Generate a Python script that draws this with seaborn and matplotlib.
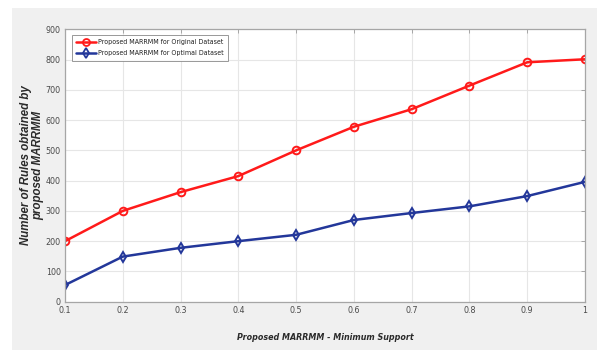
import numpy as np
import pandas as pd
import matplotlib
matplotlib.use("Agg")
import matplotlib.pyplot as plt
import seaborn as sns
from matplotlib.patches import Rectangle
from matplotlib.lines import Line2D
from matplotlib import font_manager

# Minimum support thresholds
min_support = [0.1, 0.2, 0.3, 0.4, 0.5, 0.6, 0.7, 0.8, 0.9, 1.0]
# Number of rules generated
rules_original = [200, 300, 362, 415, 500, 578, 636, 714, 791, 801]
rules_optimal = [55, 149, 178, 200, 221, 270, 293, 315, 349, 396]

label_original = "Proposed MARRMM for Original Dataset"
label_optimal = "Proposed MARRMM for Optimal Dataset"

y_ticks = [0, 100, 200, 300, 400, 500, 600, 700, 800, 900]
x_ticks = [0.1, 0.2, 0.3, 0.4, 0.5, 0.6, 0.7, 0.8, 0.9, 1.0]
x_tick_labels = ["0.1", "0.2", "0.3", "0.4", "0.5", "0.6", "0.7", "0.8", "0.9", "1"]

df = pd.DataFrame({
    "support": min_support * 2,
    "rules": rules_original + rules_optimal,
    "series": [label_original] * len(min_support) + [label_optimal] * len(min_support),
})

sns.set_theme(style="white")
plt.rcParams["font.family"] = ["Liberation Sans", "DejaVu Sans"]

# a narrow face for horizontal text, if one is available
installed = {f.name for f in font_manager.fontManager.ttflist}
if "Liberation Sans Narrow" in installed:
    narrow = {"family": ["Liberation Sans Narrow", "DejaVu Sans"]}
else:
    narrow = {"family": ["DejaVu Sans"], "stretch": "condensed"}

fig = plt.figure(figsize=(5.97, 3.5), dpi=100)
fig.patch.set_facecolor("white")
# grey window background
fig.add_artist(Rectangle((12 / 597, 0), 1 - 12 / 597, 1 - 8 / 350,
                         transform=fig.transFigure, facecolor="#f0f0f0",
                         edgecolor="none", zorder=0))

ax = fig.add_axes([65 / 597, 1 - 301.7 / 350, (585 - 65) / 597, (301.7 - 29.3) / 350])
ax.set_facecolor("white")

palette = {label_original: "#ff1a1a", label_optimal: "#23379a"}
markers = {label_original: "o", label_optimal: "d"}
sns.lineplot(data=df, x="support", y="rules", hue="series", style="series",
             palette=palette, markers=markers, dashes=False, linewidth=1.8,
             markersize=5.5, markeredgewidth=1.4, ax=ax, legend=False)
for line in ax.get_lines():
    line.set_markerfacecolor("none")
    line.set_markeredgecolor(line.get_color())

ax.set_xlim(0.1, 1.0)
ax.set_ylim(0, 900)
ax.set_xticks(x_ticks)
ax.set_xticklabels(x_tick_labels)
ax.set_yticks(y_ticks)
ax.grid(True, color="#e6e6e6", linewidth=0.8)
ax.set_axisbelow(True)
for sp in ax.spines.values():
    sp.set_visible(True)
    sp.set_color("#a6a6a6")
    sp.set_linewidth(0.9)
ax.tick_params(axis="both", which="both", direction="in", length=3, width=0.7,
               color="#a6a6a6", labelsize=6.4, labelcolor="#4a4a4a",
               top=True, right=True, pad=3)
for t in ax.get_xticklabels() + ax.get_yticklabels():
    t.set_fontfamily(narrow["family"])
    if "stretch" in narrow:
        t.set_fontstretch(narrow["stretch"])

ax.set_xlabel("Proposed MARRMM - Minimum Support", fontsize=6.4, fontweight="bold",
              fontstyle="italic", color="#2a2a2a", labelpad=13, **narrow)
ax.set_ylabel("Number of Rules obtained by\nproposed MARRMM", fontsize=8.3,
              fontweight="bold", fontstyle="italic", color="#2a2a2a",
              labelpad=1, linespacing=1.0)

handles = [
    Line2D([], [], color="#ff1a1a", marker="o", markerfacecolor="none",
           markeredgewidth=1.3, markersize=5, linewidth=1.8),
    Line2D([], [], color="#23379a", marker="d", markerfacecolor="none",
           markeredgewidth=1.3, markersize=5, linewidth=1.8),
]
prop = {"size": 5.0, **narrow}
leg = ax.legend(handles, [label_original, label_optimal], loc="upper left",
                bbox_to_anchor=(0.0135, 0.979), frameon=True,
                fancybox=False, edgecolor="#7f7f7f", handlelength=2.9,
                handletextpad=0.3, borderpad=0.6, labelspacing=0.75,
                borderaxespad=0.0, prop=prop)
leg.get_frame().set_linewidth(0.7)
for t in leg.get_texts():
    t.set_color("#202020")

fig.savefig("out.png", dpi=100)
